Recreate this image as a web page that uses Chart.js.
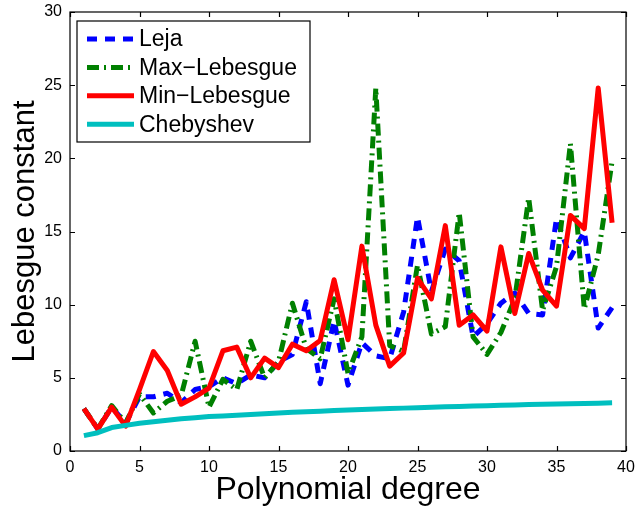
<!DOCTYPE html>
<html>
<head>
<meta charset="utf-8">
<script src="https://cdn.jsdelivr.net/npm/chart.js@4/dist/chart.umd.min.js"></script>
<style>
  html, body { margin: 0; padding: 0; background: #fff; }
  #wrap { width: 635px; height: 507px; }
</style>
</head>
<body>
<div id="wrap"><canvas id="lebesgueChart" width="635" height="507"></canvas></div>
<script>
// grado del polinomio
const degrees = [1, 2, 3, 4, 5, 6, 7, 8, 9, 10, 11, 12, 13, 14, 15, 16, 17, 18, 19, 20,
                 21, 22, 23, 24, 25, 26, 27, 28, 29, 30, 31, 32, 33, 34, 35, 36, 37, 38, 39];

// constante de Lebesgue para cada familia de nodos
const leja = [2.9, 1.5, 3.0, 1.9, 3.7, 3.7, 3.95, 3.3, 4.2, 4.4, 5.0, 4.6, 5.2, 5.0, 6.1, 6.6, 10.2, 4.6, 8.9, 4.5,
              7.4, 6.5, 6.3, 9.5, 16.0, 10.9, 13.8, 13.0, 7.8, 8.7, 10.1, 10.8, 9.4, 9.3, 15.9, 13.2, 15.0, 8.4, 9.8];
const maxLebesgue = [2.9, 1.5, 3.1, 1.9, 3.9, 2.6, 3.4, 3.8, 7.5, 3.0, 4.9, 4.2, 7.5, 5.0, 6.1, 10.1, 7.0, 6.3, 10.4, 5.3,
                     7.8, 24.8, 7.2, 6.8, 12.7, 8.0, 8.5, 16.3, 7.8, 6.6, 8.1, 10.4, 17.3, 9.6, 12.6, 21.0, 9.7, 13.4, 19.8];
const minLebesgue = [2.9, 1.5, 3.0, 1.7, 4.2, 6.8, 5.5, 3.2, 3.7, 4.3, 6.85, 7.1, 5.0, 6.35, 5.7, 7.3, 6.85, 7.55, 11.7, 7.6,
                     14.0, 8.6, 5.8, 6.7, 11.8, 10.4, 15.4, 8.6, 9.3, 8.2, 13.95, 9.4, 13.5, 11.0, 9.9, 16.1, 15.2, 24.8, 15.6];
const chebyshev = [1.05, 1.25, 1.6, 1.75, 1.9, 2.0, 2.1, 2.2, 2.27, 2.35, 2.4, 2.45, 2.5, 2.55, 2.6, 2.65, 2.68, 2.72, 2.76, 2.8,
                   2.83, 2.87, 2.9, 2.93, 2.96, 2.99, 3.02, 3.04, 3.07, 3.1, 3.12, 3.14, 3.17, 3.19, 3.21, 3.23, 3.25, 3.27, 3.29];

const seriesNames = ['Leja', 'Max\u2212Lebesgue', 'Min\u2212Lebesgue', 'Chebyshev'];

const FONT = "'Liberation Sans', Arial, Helvetica, sans-serif";

function puntos(vals) {
    return degrees.map((d, i) => ({ x: d, y: vals[i] }));
}

// caja completa con marcas hacia adentro
const cajaEjes = {
    id: 'cajaEjes',
    afterDatasetsDraw(chart) {
        const { ctx, chartArea: a, scales } = chart;
        const tl = 5;
        ctx.save();
        ctx.strokeStyle = '#000';
        ctx.lineWidth = 1.2;
        ctx.strokeRect(a.left, a.top, a.right - a.left, a.bottom - a.top);
        ctx.beginPath();
        scales.x.ticks.forEach(t => {
            const px = Math.round(scales.x.getPixelForValue(t.value)) + 0.5;
            ctx.moveTo(px, a.bottom); ctx.lineTo(px, a.bottom - tl);
            ctx.moveTo(px, a.top); ctx.lineTo(px, a.top + tl);
        });
        scales.y.ticks.forEach(t => {
            const py = Math.round(scales.y.getPixelForValue(t.value)) + 0.5;
            ctx.moveTo(a.left, py); ctx.lineTo(a.left + tl, py);
            ctx.moveTo(a.right, py); ctx.lineTo(a.right - tl, py);
        });
        ctx.stroke();
        ctx.restore();
    }
};

// leyenda con recuadro arriba a la izquierda
const leyenda = {
    id: 'leyenda',
    afterDraw(chart) {
        const { ctx, chartArea: a } = chart;
        const x0 = a.left + 7, y0 = a.top + 9, w = 233, h = 121;
        ctx.save();
        ctx.fillStyle = '#fff';
        ctx.fillRect(x0, y0, w, h);
        ctx.strokeStyle = '#000';
        ctx.lineWidth = 1.2;
        ctx.strokeRect(x0, y0, w, h);
        ctx.font = '23px ' + FONT;
        ctx.textBaseline = 'middle';
        seriesNames.forEach((name, i) => {
            const ds = chart.data.datasets[i];
            const cy = y0 + 18 + i * 28.4;
            ctx.beginPath();
            ctx.setLineDash(ds.borderDash || []);
            ctx.strokeStyle = ds.borderColor;
            ctx.lineWidth = ds.borderWidth;
            ctx.moveTo(x0 + 10, cy);
            ctx.lineTo(x0 + 57, cy);
            ctx.stroke();
            ctx.setLineDash([]);
            ctx.fillStyle = '#000';
            ctx.fillText(name, x0 + 62, cy + 1);
        });
        ctx.restore();
    }
};

const ctx = document.getElementById('lebesgueChart').getContext('2d');
new Chart(ctx, {
    type: 'line',
    data: {
        datasets: [
            { label: seriesNames[0], data: puntos(leja), borderColor: '#0000ff', borderWidth: 5, borderDash: [10, 8], order: 3 },
            { label: seriesNames[1], data: puntos(maxLebesgue), borderColor: '#008000', borderWidth: 5, borderDash: [12, 5, 2, 5], order: 2 },
            { label: seriesNames[2], data: puntos(minLebesgue), borderColor: '#ff0000', borderWidth: 5, order: 1 },
            { label: seriesNames[3], data: puntos(chebyshev), borderColor: '#00bfbf', borderWidth: 5, order: 0 }
        ]
    },
    options: {
        responsive: false,
        animation: false,
        devicePixelRatio: 1,
        layout: { padding: { top: 12, right: 9, left: 0, bottom: 0 } },
        elements: {
            point: { radius: 0 },
            line: { tension: 0, fill: false, borderCapStyle: 'butt', borderJoinStyle: 'round' }
        },
        plugins: {
            legend: { display: false },
            tooltip: { enabled: false }
        },
        scales: {
            x: {
                type: 'linear',
                min: 0,
                max: 40,
                ticks: { stepSize: 5, color: '#000', padding: 7, maxRotation: 0, font: { family: FONT, size: 16 } },
                grid: { display: false, drawTicks: false },
                border: { display: false },
                title: { display: true, text: 'Polynomial degree', color: '#000', padding: { top: 0, bottom: 1 },
                         font: { family: FONT, size: 32, lineHeight: 1 } },
                afterFit(scale) {
                    scale.height = 56;
                    scale.paddingLeft = 0;
                    scale.paddingRight = 0;
                }
            },
            y: {
                min: 0,
                max: 30,
                ticks: { stepSize: 5, color: '#000', padding: 8, font: { family: FONT, size: 16 } },
                grid: { display: false, drawTicks: false },
                border: { display: false },
                title: { display: true, text: 'Lebesgue constant', color: '#000', padding: { top: 10, bottom: 0 },
                         font: { family: FONT, size: 31, lineHeight: 1 } },
                afterFit(scale) {
                    scale.width = 70;
                    scale.paddingTop = 0;
                    scale.paddingBottom = 0;
                }
            }
        }
    },
    plugins: [cajaEjes, leyenda]
});
</script>
</body>
</html>
